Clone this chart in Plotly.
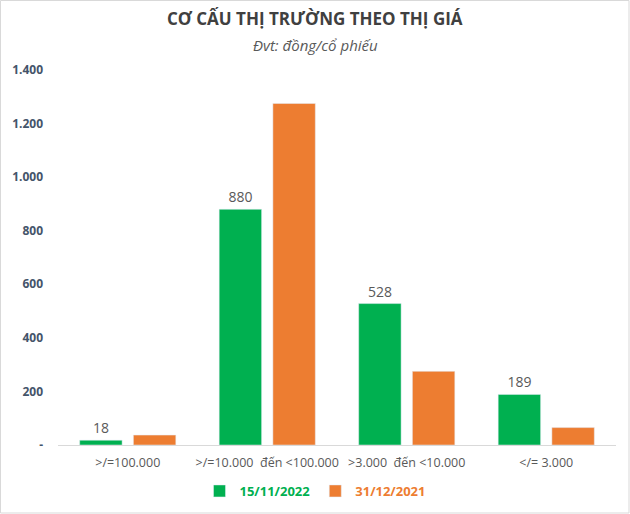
import plotly.graph_objects as go

categories = [">/=100.000", ">/=10.000  đến <100.000", ">3.000  đến <10.000", "</= 3.000"]
series_2022 = [18, 880, 528, 189]
series_2021 = [37, 1275, 275, 65]
y_tickvals = [0, 200, 400, 600, 800, 1000, 1200, 1400]
y_ticktext = ["-", "200", "400", "600", "800", "1.000", "1.200", "1.400"]

W, H = 630, 514
L, R, T, B = 58, 14, 70, 69
pw = W - L - R
ph = H - T - B

GREEN = "#00B050"
ORANGE = "#ED7D31"
FONT = "Open Sans"

fig = go.Figure()
fig.add_trace(go.Bar(
    x=categories, y=series_2022, name=f"<b><span style='color:{GREEN}'>15/11/2022</span></b>",
    marker=dict(color=GREEN),
    text=[str(v) for v in series_2022], textposition="outside",
    textfont=dict(color="#595959", size=14, family=FONT), cliponaxis=False,
))
fig.add_trace(go.Bar(
    x=categories, y=series_2021, name=f"<b><span style='color:{ORANGE}'>31/12/2021</span></b>",
    marker=dict(color=ORANGE),
))

fig.update_layout(
    width=W, height=H,
    margin=dict(l=L, r=R, t=T, b=B, autoexpand=False),
    paper_bgcolor="white", plot_bgcolor="white",
    barmode="group", bargap=0.23, bargroupgap=0.21,
    font=dict(family=FONT, color="#595959"),
    showlegend=True,
    legend=dict(orientation="h", x=(315 - L) / pw, xanchor="center",
                y=-(491 - (T + ph)) / ph, yanchor="middle",
                font=dict(size=13, family=FONT), itemwidth=30,
                traceorder="normal", tracegroupgap=0),
    xaxis=dict(showgrid=False, showline=True, linecolor="#D9D9D9", linewidth=1,
               ticks="", ticklabelstandoff=6,
               tickfont=dict(size=12.5, color="#595959", family=FONT)),
    yaxis=dict(range=[0, 1400], showgrid=False, zeroline=False, showline=False,
               tickvals=y_tickvals, ticktext=[f"<b>{t}</b>" for t in y_ticktext], ticks="",
               ticklabelstandoff=14,
               tickfont=dict(size=12, color="#44546A", family=FONT)),
    annotations=[
        dict(text="<b>CƠ CẤU THỊ TRƯỜNG THEO THỊ GIÁ</b>", xref="paper", yref="paper",
             x=(315 - L) / pw, y=1 + (T - 19) / ph,
             showarrow=False, font=dict(size=17, color="#404040", family=FONT),
             xanchor="center", yanchor="middle"),
        dict(text="<i>Đvt: đồng/cổ phiếu</i>", xref="paper", yref="paper",
             x=(315 - L) / pw, y=1 + (T - 45) / ph,
             showarrow=False, font=dict(size=15, color="#595959", family=FONT),
             xanchor="center", yanchor="middle"),
    ],
    shapes=[dict(type="rect", xref="paper", yref="paper",
                 x0=-(L - 0.5) / pw, x1=(W - L - 1) / pw, y0=-(B - 1) / ph, y1=1 + (T - 0.5) / ph,
                 line=dict(color="#D9D9D9", width=1))],
)

fig.write_html("out.html", config={"displayModeBar": False},
               post_script="document.body.style.margin='0';document.body.style.overflow='hidden';")
